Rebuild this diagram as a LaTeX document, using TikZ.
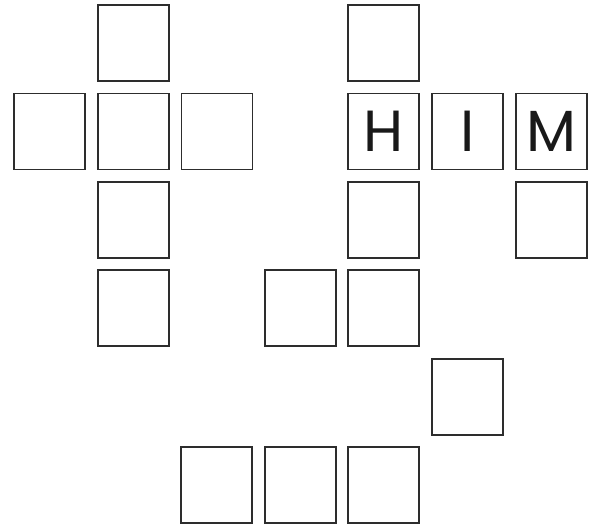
\documentclass[tikz,border=0pt]{standalone}
\usepackage{fontspec}
\setsansfont{Poppins}
\usepackage{tikz}
\usetikzlibrary{positioning}
\definecolor{cellgray}{RGB}{45,45,45}

\begin{document}
\begin{tikzpicture}[
  x=1pt,y=-1pt,
  cell/.style={rectangle,draw=cellgray,line width=1.6pt,fill=white,minimum width=71pt,minimum height=76pt,inner sep=0pt},
  letter/.style={font=\sffamily\fontsize{58}{58}\selectfont,text=black!90}
]
% canvas
\useasboundingbox (0,0) rectangle (589,527);

% left cross
\node[cell] (a1) at (133.5,43) {};
\node[cell] (a2) at (49.5,131.5) {};
\node[cell] (a3) at (133.5,131.5) {};
\node[cell] (a4) at (217,131.5) {};
\node[cell] (a5) at (133.5,220) {};
\node[cell] (a6) at (133.5,308) {};

% right column with the word
\node[cell] (b1) at (383.5,43) {};
\node[cell,letter] (h) at (383.5,131.5) {H};
\node[cell,letter] (i) at (467.5,131.5) {I};
\node[cell,letter] (m) at (551.5,131.5) {M};
\node[cell] (b2) at (383.5,220) {};
\node[cell] (b3) at (551.5,220) {};
\node[cell] (b4) at (300.5,308) {};
\node[cell] (b5) at (383.5,308) {};

% lower cells
\node[cell] (c1) at (467.5,397) {};
\node[cell] (c2) at (216.5,485) {};
\node[cell] (c3) at (300.5,485) {};
\node[cell] (c4) at (383.5,485) {};

\end{tikzpicture}
\end{document}
